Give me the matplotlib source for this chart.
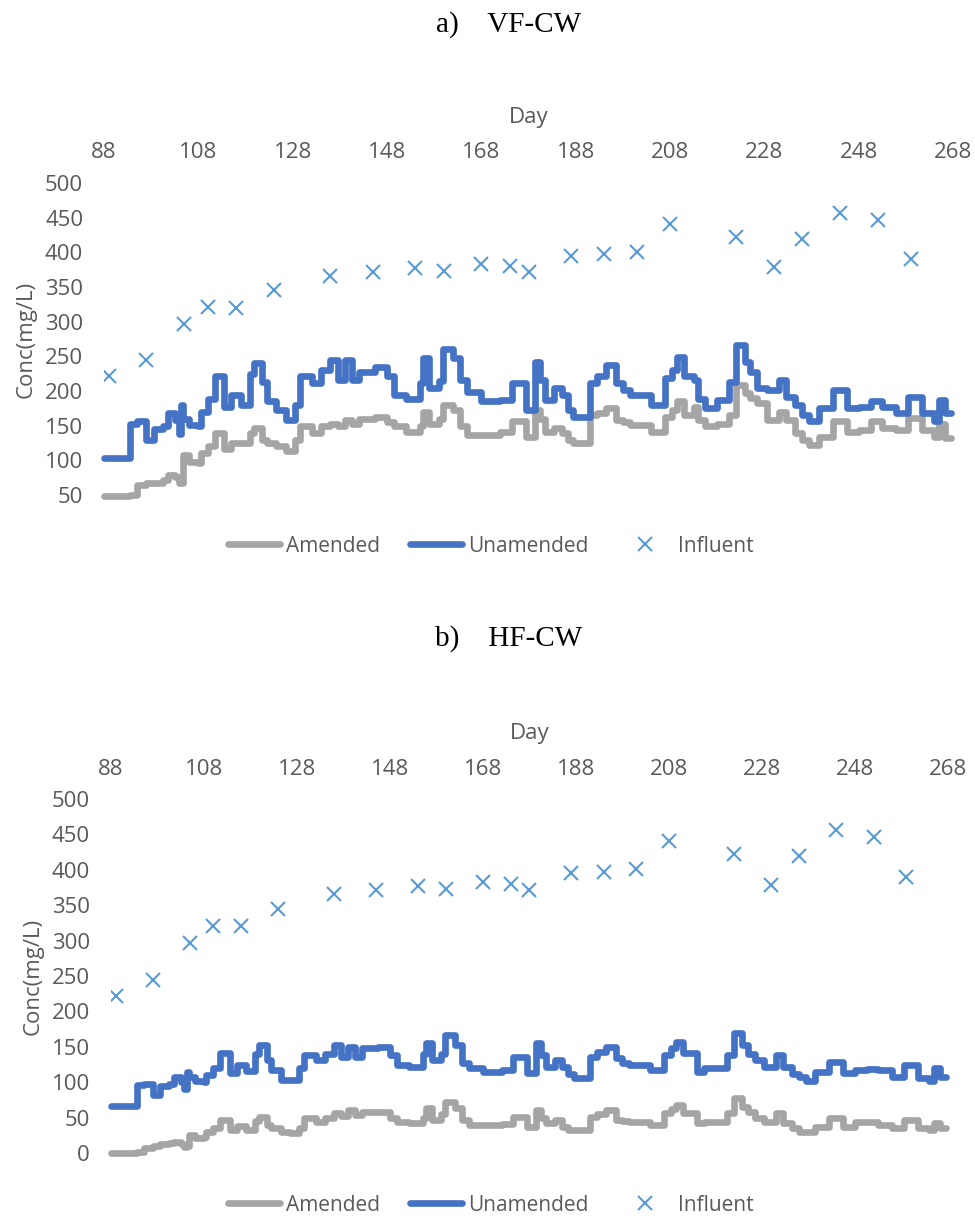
import matplotlib.pyplot as plt

# Data
days = [88, 93.5, 95, 97, 98.5, 100.5, 101.5, 103, 103.8, 104.3, 104.8, 106, 108, 108.5,
        110, 111.5, 113.5, 115, 117, 119, 119.8, 121.5, 122.5, 124.5, 126.5, 128.5, 129.5,
        132, 134, 136, 137.5, 139, 140.5, 142, 145.5, 148, 149.5, 152, 155, 155.7, 157,
        159, 159.8, 162, 163.5, 165, 168, 172, 174.5, 177.5, 179.3, 180.5, 181.5, 183.5,
        185, 186.3, 187.5, 191, 192.5, 194.5, 196.5, 198, 199.5, 204, 207, 208.5, 209.5,
        211, 213, 214, 215.5, 218, 220.5, 222, 223.8, 225, 226.5, 228.5, 231, 232.5,
        234.5, 236, 237.5, 239.5, 242.5, 245.5, 248, 250.5, 253, 256, 258.5, 261.5, 264,
        265, 266.3, 267.5]

vf_unamended = [103, 152, 156, 130, 145, 150, 168, 158, 138, 180, 160, 151, 150, 170,
                188, 221, 177, 194, 180, 225, 240, 213, 185, 173, 158, 180, 221,
                211, 230, 245, 216, 245, 216, 228, 235, 221, 194, 189, 211, 247, 204,
                215, 261, 247, 216, 199, 185, 187, 211, 173, 242, 216, 187, 204,
                194, 173, 163, 211, 221, 237, 211, 201, 194, 180, 218, 230, 249,
                221, 216, 189, 175, 187, 213, 266, 242, 228, 204, 201, 216, 192,
                180, 165, 156, 175, 201, 175, 177, 185, 177, 168, 192, 168, 156,
                187, 168, 168]
vf_amended = [49, 50, 65, 68, 67, 72, 79, 76, 67, 68, 108, 98, 96, 110,
              120, 139, 117, 125, 125, 140, 146, 130, 125, 120, 113, 129, 149,
              139, 150, 153, 150, 158, 153, 160, 163, 155, 149, 141, 150, 170, 153,
              160, 180, 173, 149, 137, 137, 141, 156, 134, 173, 160, 141, 146,
              140, 129, 125, 165, 168, 175, 158, 155, 151, 141, 163, 172, 185,
              165, 177, 158, 149, 153, 165, 209, 197, 190, 182, 158, 170, 158,
              140, 129, 122, 134, 156, 141, 144, 156, 146, 144, 161, 144, 134,
              153, 132, 132]
hf_unamended = [67, 96, 98, 82, 95, 98, 108, 100, 90, 114, 108, 101, 100, 110,
                120, 141, 113, 124, 116, 140, 153, 131, 117, 103, 103, 120, 138,
                131, 140, 153, 136, 150, 136, 148, 149, 138, 124, 122, 140, 155, 131,
                140, 167, 153, 127, 120, 115, 117, 136, 113, 155, 138, 122, 131,
                122, 112, 106, 136, 143, 150, 134, 127, 124, 117, 138, 148, 157,
                141, 141, 115, 120, 120, 138, 169, 153, 140, 131, 122, 138, 122,
                112, 108, 101, 115, 129, 113, 117, 119, 117, 108, 124, 106, 101,
                120, 108, 108]
hf_amended = [0, 2, 7, 10, 12, 14, 15, 12, 9, 10, 25, 21, 22, 30,
              35, 47, 33, 38, 33, 45, 51, 40, 35, 30, 28, 35, 49,
              44, 50, 56, 52, 61, 54, 58, 58, 50, 44, 42, 50, 63, 47,
              55, 72, 63, 47, 40, 40, 41, 51, 37, 61, 50, 42, 47,
              37, 33, 32, 51, 55, 61, 47, 45, 44, 40, 56, 62, 68,
              56, 56, 42, 44, 44, 56, 77, 65, 58, 49, 44, 56, 42,
              35, 30, 30, 37, 49, 37, 44, 44, 40, 35, 47, 35, 33,
              43, 35, 35]

inf_days = [89, 97, 105, 110, 116, 124, 136, 145, 154, 160, 168, 174, 178, 187,
            194, 201, 208, 222, 230, 236, 244, 252, 259]
inf_conc = [222, 244, 297, 321, 320, 345, 366, 371, 377, 373, 383, 380, 372, 395,
            397, 401, 441, 422, 379, 419, 456, 446, 390]

day_ticks = [88, 108, 128, 148, 168, 188, 208, 228, 248, 268]

plt.rcParams['font.family'] = ['Open Sans', 'DejaVu Sans']
txt = '#595959'
c_blue = '#4472C4'
c_gray = '#A5A5A5'
c_inf = '#5B9BD5'

fig = plt.figure(figsize=(9.75, 12.18), dpi=100)

panels = [
    ("a)    VF-CW", 0.991, [0.1067, 0.5936, 0.8708, 0.2562], vf_amended, vf_unamended,
     (50, 500), 0.5515),
    ("b)    HF-CW", 0.487, [0.1138, 0.0534, 0.8585, 0.2906], hf_amended, hf_unamended,
     (0, 500), 0.0105),
]

for title, ty, rect, amended, unamended, ylim, leg_y in panels:
    fig.text(0.522, ty, title, ha='center', va='top', fontsize=21,
             family=['Liberation Serif'], color='black')
    ax = fig.add_axes(rect)
    ax.plot(days, amended, drawstyle='steps-post', color=c_gray, lw=4.8,
            solid_joinstyle='round', solid_capstyle='round', clip_on=False,
            label='Amended')
    ax.plot(days, unamended, drawstyle='steps-post', color=c_blue, lw=4.8,
            solid_joinstyle='round', solid_capstyle='round', clip_on=False,
            label='Unamended')
    ax.plot(inf_days, inf_conc, ls='none', marker='x', ms=10, mew=1.5,
            color=c_inf, label='Influent')

    ax.set_xlim(88, 268)
    ax.set_ylim(*ylim)
    ax.set_yticks(range(ylim[0], 501, 50))
    ax.xaxis.tick_top()
    ax.xaxis.set_label_position('top')
    ax.set_xticks(day_ticks)
    ax.set_xlabel('Day', fontsize=16, color=txt, labelpad=14)
    ax.set_ylabel('Conc(mg/L)', fontsize=16, color=txt, labelpad=6)
    ax.tick_params(axis='x', length=0, labelsize=16, labelcolor=txt, pad=14)
    ax.tick_params(axis='y', length=0, labelsize=16, labelcolor=txt, pad=15)
    for s in ax.spines.values():
        s.set_visible(False)
    ax.grid(False)

    ax.legend(loc='center', bbox_to_anchor=(0.503, leg_y), bbox_transform=fig.transFigure,
              ncol=3, frameon=False, fontsize=15, labelcolor=txt,
              handlelength=2.5, handletextpad=0.3, columnspacing=1.45)

plt.savefig('out.png', dpi=100)
